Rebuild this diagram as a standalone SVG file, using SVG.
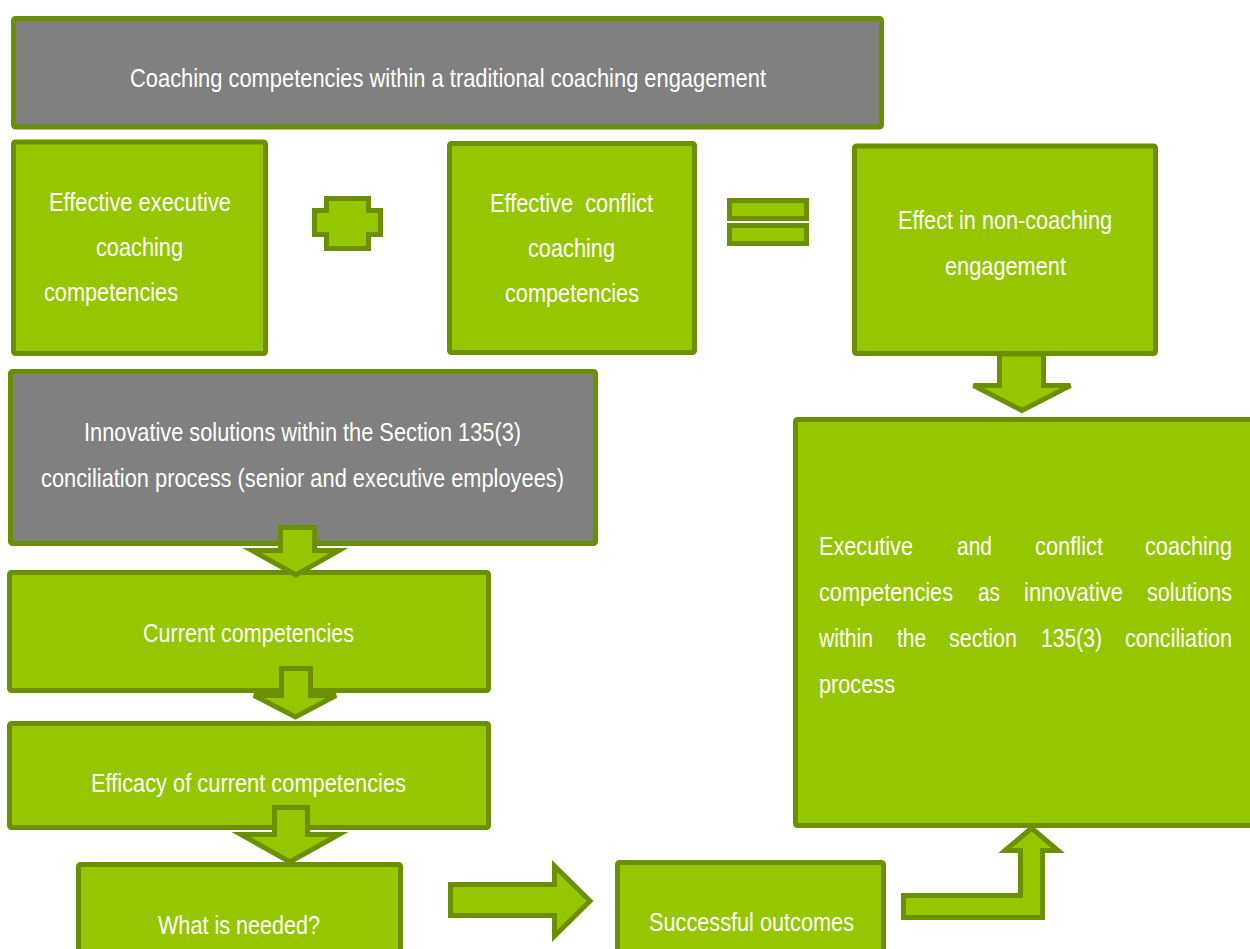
<svg xmlns="http://www.w3.org/2000/svg" width="1250" height="949" viewBox="0 0 1250 949">
<style>
.g{fill:#95c600;stroke:#6b8f00;stroke-width:5;stroke-linejoin:miter}
.k{fill:#808080;stroke:#6b8f00;stroke-width:5}
.a{fill:#95c600;stroke:#6b8f00;stroke-width:5;stroke-linejoin:miter}
text{font-family:"Liberation Sans",Arial,sans-serif;font-size:25px;fill:#fff}
</style>
<rect width="1250" height="949" fill="#fff"/>
<g id="n-top"><rect class="k" x="13.5" y="18.5" width="868" height="108.5" rx="2"/>
<text x="130" y="87" textLength="636" lengthAdjust="spacingAndGlyphs">Coaching competencies within a traditional coaching engagement</text></g>
<g id="n-exec"><rect class="g" x="13.5" y="142" width="252" height="211.5" rx="2"/>
<text x="49" y="211" textLength="182" lengthAdjust="spacingAndGlyphs">Effective executive</text>
<text x="96" y="256" textLength="87" lengthAdjust="spacingAndGlyphs">coaching</text>
<text x="44" y="301" textLength="134" lengthAdjust="spacingAndGlyphs">competencies</text></g>
<g id="n-plus"><polygon class="g" points="326.5,198.5 368.5,198.5 368.5,210.5 380.5,210.5 380.5,234.5 368.5,234.5 368.5,248.5 326.5,248.5 326.5,234.5 314.5,234.5 314.5,210.5 326.5,210.5"/></g>
<g id="n-conf"><rect class="g" x="449.5" y="143.5" width="245" height="209" rx="2"/>
<text x="490" y="212" textLength="163" lengthAdjust="spacingAndGlyphs" xml:space="preserve">Effective  conflict</text>
<text x="528" y="257" textLength="87" lengthAdjust="spacingAndGlyphs">coaching</text>
<text x="505" y="302" textLength="134" lengthAdjust="spacingAndGlyphs">competencies</text></g>
<g id="n-eq"><rect class="g" x="729.5" y="200.5" width="77" height="18"/><rect class="g" x="729.5" y="225.5" width="77" height="18"/></g>
<g id="n-effect"><rect class="g" x="854.5" y="146" width="301" height="207.5" rx="2"/>
<text x="898" y="229" textLength="214" lengthAdjust="spacingAndGlyphs">Effect in non-coaching</text>
<text x="945" y="275" textLength="121" lengthAdjust="spacingAndGlyphs">engagement</text></g>
<g id="n-innov"><rect class="k" x="10.5" y="371.5" width="585" height="172" rx="2"/>
<text x="84" y="441" textLength="437" lengthAdjust="spacingAndGlyphs">Innovative solutions within the Section 135(3)</text>
<text x="41" y="487" textLength="523" lengthAdjust="spacingAndGlyphs">conciliation process (senior and executive employees)</text></g>
<g id="n-result"><rect class="g" x="795.5" y="419.5" width="462" height="406" rx="2"/>
<text x="819" y="555" textLength="94" lengthAdjust="spacingAndGlyphs">Executive</text>
<text x="957" y="555" textLength="35" lengthAdjust="spacingAndGlyphs">and</text>
<text x="1035" y="555" textLength="68" lengthAdjust="spacingAndGlyphs">conflict</text>
<text x="1145" y="555" textLength="87" lengthAdjust="spacingAndGlyphs">coaching</text>
<text x="819" y="601" textLength="134" lengthAdjust="spacingAndGlyphs">competencies</text>
<text x="978" y="601" textLength="22" lengthAdjust="spacingAndGlyphs">as</text>
<text x="1024" y="601" textLength="99" lengthAdjust="spacingAndGlyphs">innovative</text>
<text x="1147" y="601" textLength="85" lengthAdjust="spacingAndGlyphs">solutions</text>
<text x="819" y="647" textLength="54" lengthAdjust="spacingAndGlyphs">within</text>
<text x="897" y="647" textLength="29" lengthAdjust="spacingAndGlyphs">the</text>
<text x="949" y="647" textLength="68" lengthAdjust="spacingAndGlyphs">section</text>
<text x="1041" y="647" textLength="61" lengthAdjust="spacingAndGlyphs">135(3)</text>
<text x="1125" y="647" textLength="107" lengthAdjust="spacingAndGlyphs">conciliation</text>
<text x="819" y="693" textLength="76" lengthAdjust="spacingAndGlyphs">process</text></g>
<g id="n-current"><rect class="g" x="9.5" y="572.5" width="479" height="118" rx="2"/>
<text x="143" y="642" textLength="211" lengthAdjust="spacingAndGlyphs">Current competencies</text></g>
<g id="n-efficacy"><rect class="g" x="9.5" y="723.5" width="479" height="104" rx="2"/>
<text x="91" y="792" textLength="315" lengthAdjust="spacingAndGlyphs">Efficacy of current competencies</text></g>
<g id="n-needed"><rect class="g" x="78.5" y="864.5" width="322" height="100" rx="2"/>
<text x="158" y="934" textLength="162" lengthAdjust="spacingAndGlyphs">What is needed?</text></g>
<g id="n-success"><rect class="g" x="617.5" y="862.5" width="266" height="100" rx="2"/>
<text x="649" y="931" textLength="205" lengthAdjust="spacingAndGlyphs">Successful outcomes</text></g>
<g id="connectors">
<polygon class="a" points="999.5,354 1043.5,354 1043.5,385.5 1070.5,385.5 1022,410.5 973.5,385.5 999.5,385.5"/>
<polygon class="a" points="280.5,527.5 314.5,527.5 314.5,550.5 339,550.5 296,575 252,550.5 280.5,550.5"/>
<polygon class="a" points="281.5,668.5 310.5,668.5 310.5,695.5 336,695.5 295.5,717 254,695.5 281.5,695.5"/>
<polygon class="a" points="274.5,807.5 307.5,807.5 307.5,834.5 339,834.5 290,862 241,834.5 274.5,834.5"/>
<polygon class="a" points="450.5,884.5 554.5,884.5 554.5,866 590,901 554.5,936 554.5,915.5 450.5,915.5"/>
<polygon class="a" points="903.5,895.5 1020.5,895.5 1020.5,850.5 1005,850.5 1031.5,828 1058,850.5 1042.5,850.5 1042.5,917.5 903.5,917.5"/>
</g>
</svg>
